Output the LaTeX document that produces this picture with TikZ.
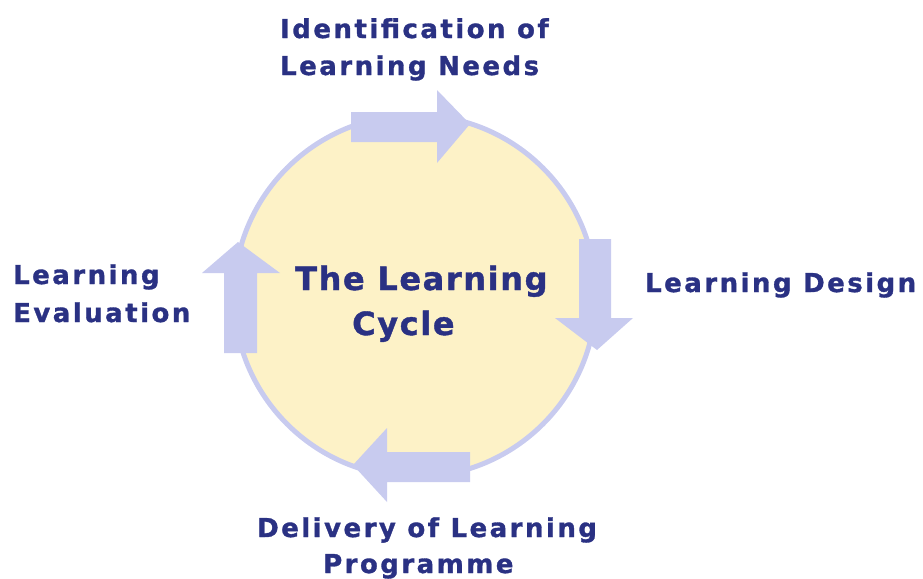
\documentclass[tikz,border=0pt]{standalone}
\usepackage{fontspec}
\newfontfamily\lblfont[LetterSpace=9.5,FakeBold=1.2]{DejaVu Sans Bold}
\newfontfamily\ttlfont[LetterSpace=5,FakeBold=1.2]{DejaVu Sans Bold}
\definecolor{navy}{HTML}{2A3183}
\definecolor{lav}{HTML}{C8CBEF}
\definecolor{cream}{HTML}{FDF2C7}
\tikzset{
  lbl/.style={font=\lblfont\fontsize{26}{30}\selectfont, text=navy, inner sep=0pt, anchor=base west},
  ttl/.style={font=\ttlfont\fontsize{32}{36}\selectfont, text=navy, inner sep=0pt, anchor=base west},
  arr/.style={fill=lav, draw=none}
}
\begin{document}
\begin{tikzpicture}[x=1pt,y=-1pt]
\useasboundingbox (0,0) rectangle (923,578);
% cycle circle
\node[circle, minimum size=362pt, inner sep=0pt, fill=cream, draw=lav, line width=5pt] (cyc) at (415,296) {};
% arrows
\fill[arr] (351,112) -- (437,112) -- (437,90) -- (470,124) -- (437,163) -- (437,142) -- (351,142) -- cycle;
\fill[arr] (579,239) -- (611,239) -- (611,318) -- (633,318) -- (597,350) -- (555,318) -- (579,318) -- cycle;
\fill[arr] (470,452) -- (470,482) -- (387,482) -- (387,502) -- (353,465) -- (387,428) -- (387,452) -- cycle;
\fill[arr] (224,353) -- (224,273) -- (202,273) -- (238,242) -- (280,273) -- (257,273) -- (257,353) -- cycle;
% labels
\node[lbl] (idf1) at (280,38) {Identification of};
\node[lbl] (idf2) at (280,75) {Learning Needs};
\node[lbl] (des) at (645,292) {Learning Design};
\node[lbl] (del1) at (257,537) {Delivery of Learning};
\node[lbl] (del2) at (323,573) {Programme};
\node[lbl] (eva1) at (13,284) {Learning};
\node[lbl] (eva2) at (13,322) {Evaluation};
\node[ttl] (ttl1) at (295,290) {The Learning};
\node[ttl] (ttl2) at (352,335) {Cycle};
\end{tikzpicture}
\end{document}
